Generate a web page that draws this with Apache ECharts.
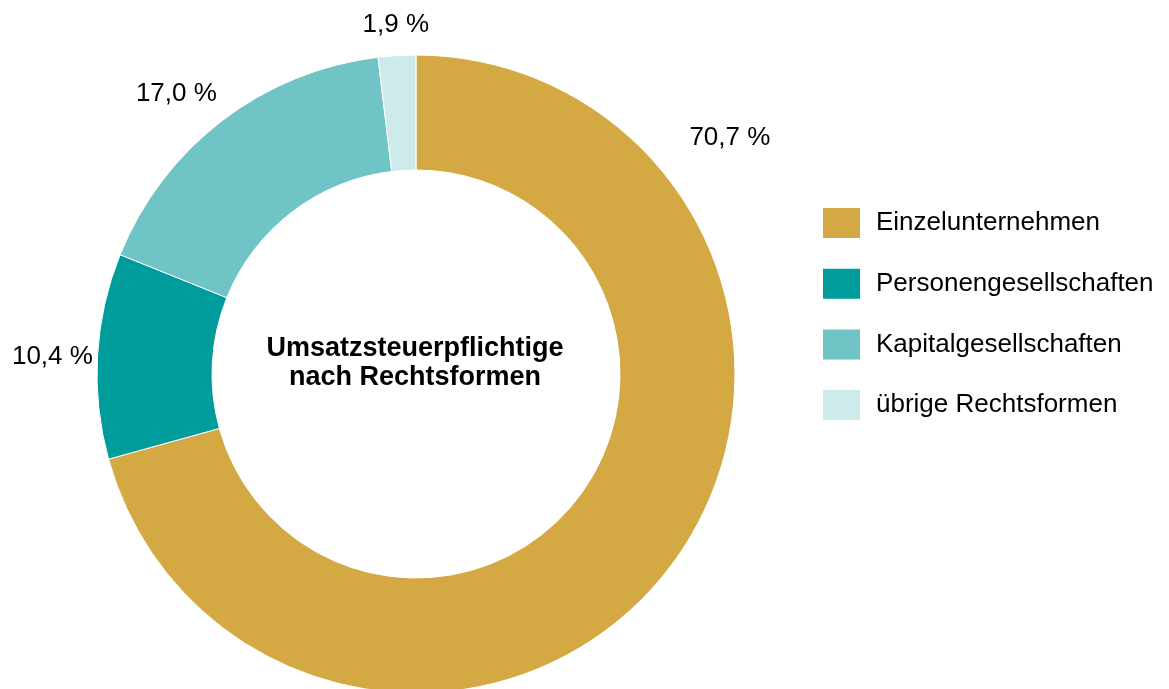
<!DOCTYPE html>
<html>
<head>
<meta charset="utf-8">
<script src="https://cdn.jsdelivr.net/npm/echarts@6/dist/echarts.min.js"></script>
<style>
  html, body { margin: 0; padding: 0; background: #fff; }
  #chart { width: 1169px; height: 689px; }
</style>
</head>
<body>
<div id="chart"></div>
<script>
var categories = ['Einzelunternehmen', 'Personengesellschaften', 'Kapitalgesellschaften', 'übrige Rechtsformen'];
var shares = [70.7, 10.4, 17.0, 1.9];
var colors = ['#d4a843', '#009b9b', '#70c4c6', '#cdebeb'];

var font = "'Liberation Sans', Arial, sans-serif";

// label placement: angle (deg clockwise from top) and distance from centre
var cx = 416, cy = 374;
var labelAngles = [53, 272.7, 319.5, 356.7];
var labelDist = [393, 364, 369, 350];

var myChart = echarts.init(document.getElementById('chart'));

var option = {
  title: {
    text: 'Umsatzsteuerpflichtige\nnach Rechtsformen',
    left: 415,
    top: 334,
    padding: 0,
    textAlign: 'center',
    textStyle: {
      fontFamily: font,
      fontSize: 27,
      fontWeight: 'bold',
      color: '#000',
      lineHeight: 29
    }
  },
  legend: {
    orient: 'vertical',
    left: 823,
    top: 208,
    padding: 0,
    itemWidth: 37,
    itemHeight: 30,
    itemGap: 30.7,
    icon: 'rect',
    selectedMode: false,
    itemStyle: {
      borderWidth: 0
    },
    textStyle: {
      fontFamily: font,
      fontSize: 26,
      color: '#000',
      padding: [0, 0, 0, 11]
    },
    data: categories
  },
  series: [
    {
      type: 'pie',
      center: [cx, cy],
      radius: [204, 319],
      startAngle: 90,
      clockwise: true,
      animation: false,
      silent: true,
      itemStyle: {
        borderColor: '#fff',
        borderWidth: 1
      },
      label: {
        show: true,
        position: 'outside',
        overflow: 'none',
        fontFamily: font,
        fontSize: 26,
        color: '#000',
        formatter: function (p) {
          return p.value.toFixed(1).replace('.', ',') + ' %';
        }
      },
      labelLine: { show: false },
      labelLayout: function (p) {
        var a = labelAngles[p.dataIndex] * Math.PI / 180;
        var d = labelDist[p.dataIndex];
        return {
          x: cx + d * Math.sin(a),
          y: cy - d * Math.cos(a),
          align: 'center',
          verticalAlign: 'middle'
        };
      },
      data: categories.map(function (c, i) {
        return { name: c, value: shares[i], itemStyle: { color: colors[i] } };
      })
    }
  ]
};

myChart.setOption(option);
</script>
</body>
</html>
